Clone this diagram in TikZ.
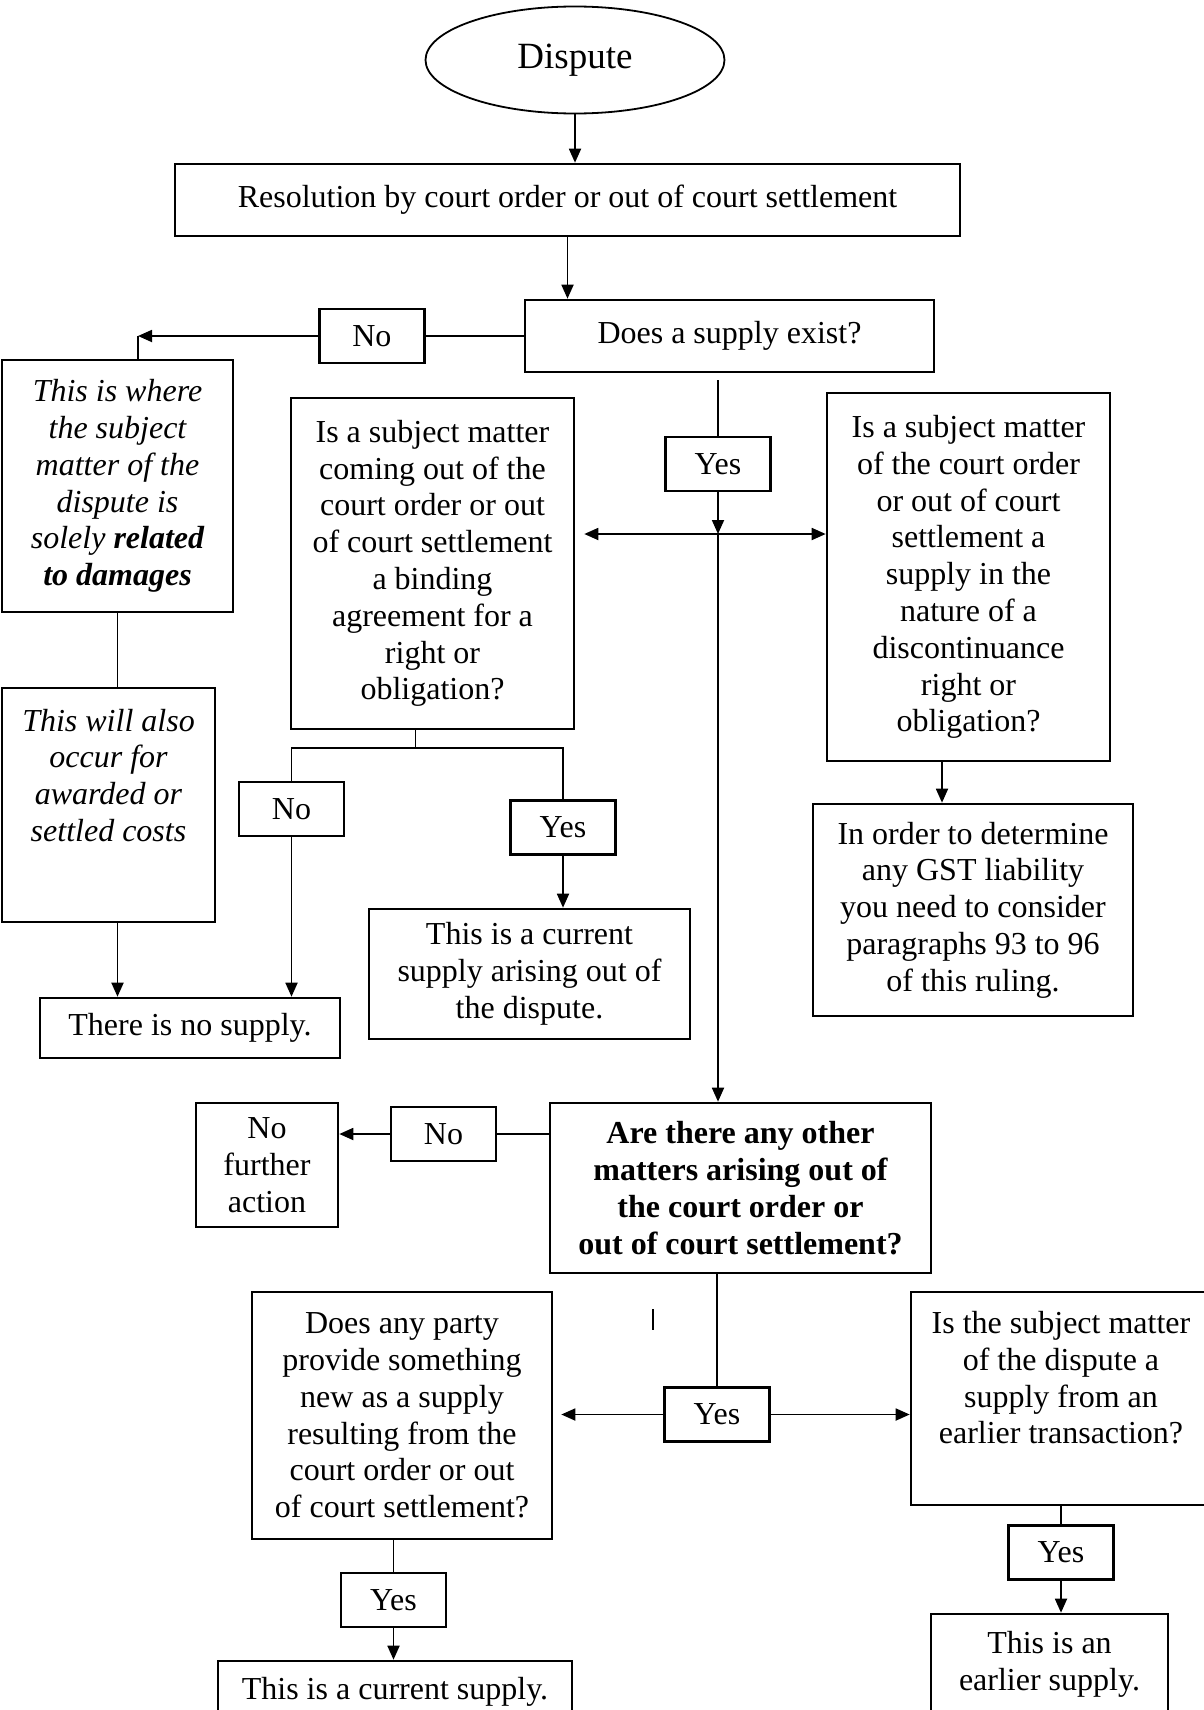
\documentclass[tikz,border=0pt]{standalone}
\usepackage{fontspec}
\setmainfont{Liberation Serif}
\usetikzlibrary{arrows.meta,positioning,shapes.geometric}

\begin{document}
\begin{tikzpicture}[
    x=1pt, y=1pt,
    font=\fontsize{32}{36.8}\selectfont,
    stage/.style={draw, line width=2.6pt, align=center, inner sep=0pt},
    note/.style={stage, font=\fontsize{32}{36.8}\selectfont\itshape},
    answer/.style={stage, minimum width=105pt, minimum height=54pt},
    terminal/.style={draw, ellipse, line width=1.8pt, minimum width=299pt, minimum height=107pt, inner sep=0pt, font=\fontsize{37}{42}\selectfont},
    link/.style={-{Triangle[length=14pt, width=12pt]}, line width=1.8pt},
    wire/.style={line width=1.8pt}
]
\useasboundingbox (0,0) rectangle (1203,-1710);
\node[terminal] (dispute) at (575,-60) {Dispute};
\node[stage, minimum width=785pt, minimum height=72pt] (res) at (567.5,-200) {Resolution by court order or out of court settlement};
\node[stage, minimum width=409pt, minimum height=72pt] (exist) at (729.5,-336) {Does a supply exist?};
\node[answer, left=98pt of exist] (no1) {No};
\node[note, minimum width=231pt, minimum height=252pt] (damages) at (117.5,-486) {This is where\\the subject\\matter of the\\dispute is\\solely \textbf{related}\\\textbf{to damages}};
\node[note, minimum width=213pt, minimum height=234pt] (costs) at (108.5,-805) {This will also\\occur for\\awarded or\\settled costs\\[23pt]\mbox{}};
\node[stage, minimum width=300pt, minimum height=60pt] (nosup) at (190,-1028) {There is no supply.};
\node[stage, minimum width=283pt, minimum height=331pt] (binding) at (432.5,-563.5) {Is a subject matter\\coming out of the\\court order or out\\of court settlement\\a binding\\agreement for a\\right or\\obligation?};
\node[answer] (no2) at (291.5,-809) {No};
\node[answer] (yes2) at (563,-827.5) {Yes};
\node[stage, minimum width=321pt, minimum height=130pt] (current) at (529.5,-974) {This is a current\\supply arising out of\\the dispute.};
\node[answer] (yes1) at (718,-464) {Yes};
\node[stage, minimum width=283pt, minimum height=368pt] (discont) at (968.5,-577) {Is a subject matter\\of the court order\\or out of court\\settlement a\\supply in the\\nature of a\\discontinuance\\right or\\obligation?};
\node[stage, minimum width=320pt, minimum height=212pt] (gst) at (973,-910) {In order to determine\\any GST liability\\you need to consider\\paragraphs 93 to 96\\of this ruling.};
\node[stage, font=\fontsize{32}{36.8}\selectfont\bfseries, minimum width=381pt, minimum height=170pt] (other) at (740.5,-1188) {Are there any other\\matters arising out of\\the court order or\\out of court settlement?};
\node[answer] (no3) at (443.5,-1134) {No};
\node[stage, minimum width=142pt, minimum height=124pt] (nofurther) at (267,-1165) {No\\further\\action};
\node[answer] (yes3) at (717,-1414.5) {Yes};
\node[stage, minimum width=300pt, minimum height=247pt] (party) at (402,-1415.5) {Does any party\\provide something\\new as a supply\\resulting from the\\court order or out\\of court settlement?};
\node[answer] (yes4) at (393.5,-1600) {Yes};
\node[stage, minimum width=354pt, minimum height=62pt] (cursup) at (395,-1692) {This is a current supply.};
\node[stage, minimum width=300pt, minimum height=213pt] (sourceq) at (1061,-1398.5) {Is the subject matter\\of the dispute a\\supply from an\\earlier transaction?\\[5pt]\mbox{}};
\node[answer, below=18pt of sourceq] (yes5) {Yes};
\node[stage, minimum width=237pt, minimum height=100pt] (earlier) at (1049.5,-1664) {This is an\\earlier supply.};
\coordinate (turn) at (138,-336);
\coordinate (hub) at (718,-534);
\draw[link] (dispute.south) -- (dispute.south |- res.north);
\draw[link] (res.south) -- (res.south |- exist.north);
\draw[wire] (exist.west) -- (no1.east);
\draw[link] (no1.west) -- (turn);
\draw[wire] (turn) -- (turn |- damages.north);
\draw[wire] (damages.south) -- (damages.south |- costs.north);
\draw[link] (damages.south |- costs.south) -- (damages.south |- nosup.north);
\draw[wire] ([xshift=-17pt]binding.south) -- ++(0,-18) coordinate (split);
\draw[wire] (split) -| (no2.north);
\draw[wire] (split) -| (yes2.north);
\draw[link] (no2.south) -- (no2.south |- nosup.north);
\draw[link] (yes2.south) -- (yes2.south |- current.north);
\draw[wire] ([yshift=-7pt]exist.south -| yes1.north) -- (yes1.north);
\draw[link] (yes1.south) -- (hub);
\draw[link] (hub) -- ([xshift=9pt]binding.east |- hub);
\draw[link] (hub) -- (discont.west |- hub);
\draw[link] (hub) -- (hub |- other.north);
\draw[link] ([xshift=-26.5pt]discont.south) -- ([xshift=-26.5pt]discont.south |- gst.north);
\draw[wire] (other.west |- no3.east) -- (no3.east);
\draw[link] (no3.west) -- (no3.west -| nofurther.east);
\draw[wire] (other.south -| yes3.north) -- (yes3.north);
\draw[link] (yes3.west) -- ([xshift=8pt]party.east |- yes3.west);
\draw[link] (yes3.east) -- (yes3.east -| sourceq.west);
\draw[wire] (yes4.north |- party.south) -- (yes4.north);
\draw[link] (yes4.south) -- (yes4.south |- cursup.north);
\draw[wire] (sourceq.south) -- (yes5.north);
\draw[link] (yes5.south) -- (yes5.south |- earlier.north);
\draw[line width=2.5pt] (653,-1309) -- (653,-1330);
\end{tikzpicture}
\end{document}
